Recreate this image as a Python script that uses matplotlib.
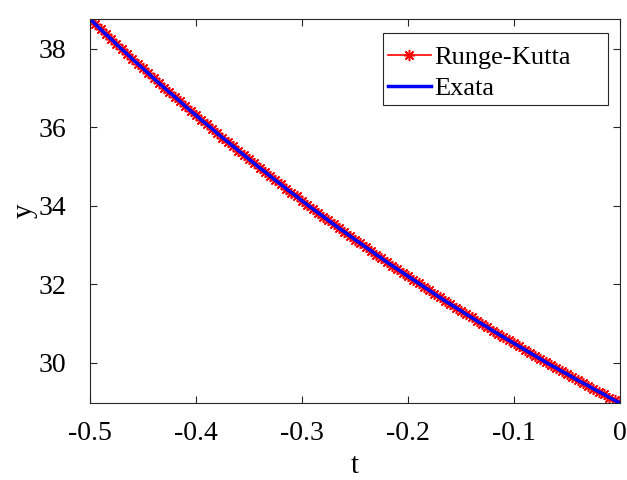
import numpy as np
import matplotlib
matplotlib.use('Agg')
import matplotlib.pyplot as plt
from matplotlib.patches import Rectangle

plt.rcParams['font.family'] = ['Liberation Serif', 'DejaVu Serif']
plt.rcParams['axes.unicode_minus'] = False

# passo h = 0.005 em [-0.5, 0]
t = np.linspace(-0.5, 0.0, 101)

# valores (t crescente)
y_rk = [
    38.76, 38.63, 38.50, 38.37, 38.25, 38.12, 37.99, 37.87, 37.74, 37.62,
    37.50, 37.38, 37.25, 37.13, 37.01, 36.89, 36.78, 36.66, 36.54, 36.42,
    36.31, 36.19, 36.08, 35.97, 35.85, 35.74, 35.63, 35.52, 35.41, 35.30,
    35.19, 35.08, 34.97, 34.87, 34.76, 34.65, 34.55, 34.44, 34.34, 34.24,
    34.13, 34.03, 33.93, 33.83, 33.73, 33.63, 33.53, 33.43, 33.34, 33.24,
    33.14, 33.05, 32.95, 32.86, 32.76, 32.67, 32.57, 32.48, 32.39, 32.30,
    32.21, 32.12, 32.03, 31.94, 31.85, 31.76, 31.67, 31.58, 31.50, 31.41,
    31.33, 31.24, 31.16, 31.07, 30.99, 30.91, 30.82, 30.74, 30.66, 30.58,
    30.50, 30.42, 30.34, 30.26, 30.18, 30.10, 30.02, 29.94, 29.87, 29.79,
    29.72, 29.64, 29.56, 29.49, 29.42, 29.34, 29.27, 29.20, 29.12, 29.05,
    28.98,
]
# solucao exata coincide com RK na escala do grafico
y_exata = list(y_rk)

x_ticks = [-0.5, -0.4, -0.3, -0.2, -0.1, 0]
x_labels = ['-0.5', '-0.4', '-0.3', '-0.2', '-0.1', '0']
y_ticks = [30, 32, 34, 36, 38]

fig = plt.figure(figsize=(6.27, 4.8), dpi=100)
ax = fig.add_axes([0.1435, 0.1604, 0.8453, 0.8000])

ax.plot(t, y_rk, color='red', linewidth=1.2, marker=(8, 2, 0),
        markersize=8, markeredgewidth=1.1, label='Runge-Kutta')
ax.plot(t, y_exata, color='blue', linewidth=2.5, label='Exata')

ax.set_xlim(-0.5, 0.0)
ax.set_ylim(min(y_rk), max(y_rk))
ax.set_xticks(x_ticks)
ax.set_xticklabels(x_labels)
ax.set_yticks(y_ticks)

ax.tick_params(direction='in', length=5, width=0.8, top=True, right=True,
               labelsize=20, colors='#262626', labelcolor='black')
ax.tick_params(axis='x', pad=13)
ax.tick_params(axis='y', pad=17)
for s in ax.spines.values():
    s.set_color('#262626')
    s.set_linewidth(0.8)

ax.set_xlabel('t', fontsize=21, labelpad=5)
ax.set_ylabel('y', fontsize=21, labelpad=0.5)

# caixa da legenda estilo MATLAB (mais larga que o texto)
ax.add_patch(Rectangle((0.553, 0.776), 0.424, 0.1875, transform=ax.transAxes,
                       facecolor='white', edgecolor='#262626', linewidth=0.8,
                       zorder=4))
leg = ax.legend(loc='upper left', bbox_to_anchor=(0.553, 0.945),
                fontsize=19, frameon=False, handlelength=1.6,
                handletextpad=0.12, borderpad=0.2, labelspacing=0.3,
                borderaxespad=0)
leg.set_zorder(5)

fig.savefig('out.png', dpi=100)
